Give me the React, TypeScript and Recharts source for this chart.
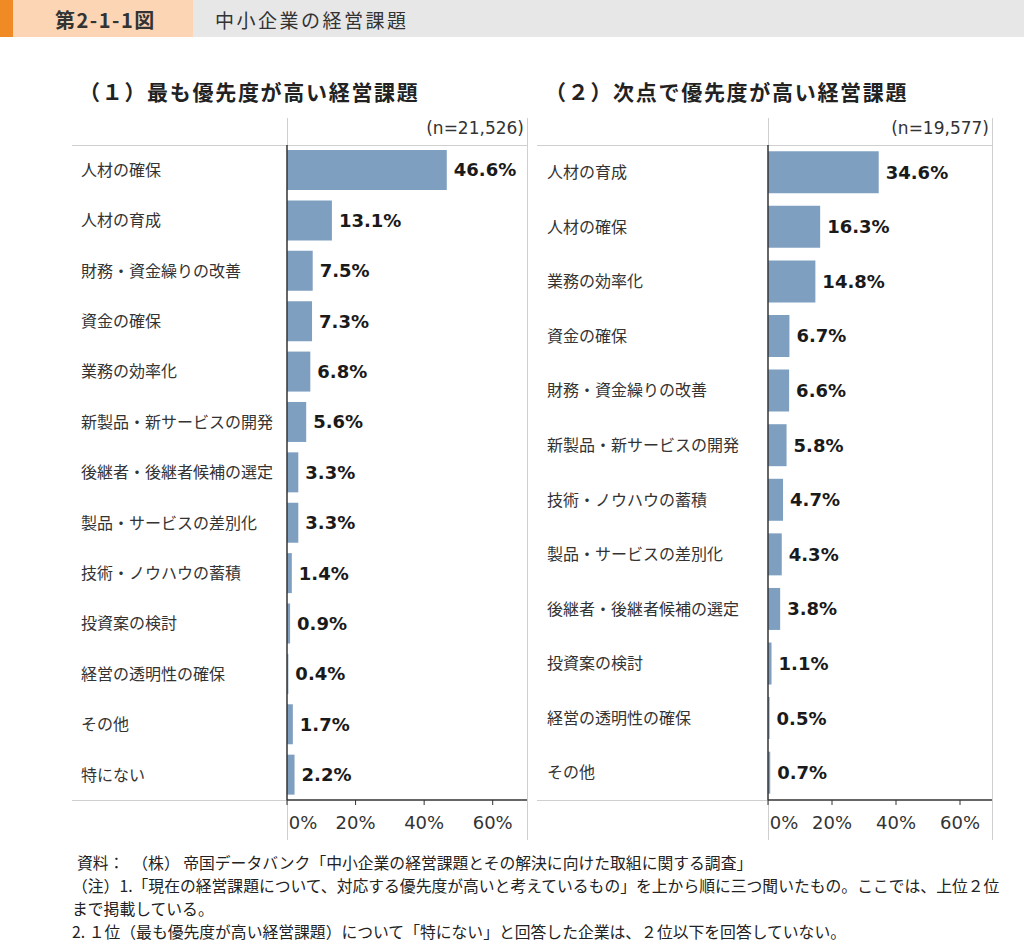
import { BarChart, Bar, XAxis, YAxis, LabelList } from 'recharts';

const leftCategories = [
  '人材の確保',
  '人材の育成',
  '財務・資金繰りの改善',
  '資金の確保',
  '業務の効率化',
  '新製品・新サービスの開発',
  '後継者・後継者候補の選定',
  '製品・サービスの差別化',
  '技術・ノウハウの蓄積',
  '投資案の検討',
  '経営の透明性の確保',
  'その他',
  '特にない',
];
const leftValues = [46.6, 13.1, 7.5, 7.3, 6.8, 5.6, 3.3, 3.3, 1.4, 0.9, 0.4, 1.7, 2.2];

const rightCategories = [
  '人材の育成',
  '人材の確保',
  '業務の効率化',
  '資金の確保',
  '財務・資金繰りの改善',
  '新製品・新サービスの開発',
  '技術・ノウハウの蓄積',
  '製品・サービスの差別化',
  '後継者・後継者候補の選定',
  '投資案の検討',
  '経営の透明性の確保',
  'その他',
];
const rightValues = [34.6, 16.3, 14.8, 6.7, 6.6, 5.8, 4.7, 4.3, 3.8, 1.1, 0.5, 0.7];

const xTicks = [0, 20, 40, 60];

const JP = '"Noto Sans CJK JP", "Noto Sans", sans-serif';
const NUM = '"DejaVu Sans", Verdana, sans-serif';
const GRID = '#cfcfcf';
const AXIS = '#333';
const BAR = '#7f9fc1';

interface PanelProps {
  title: string;
  n: string;
  categories: string[];
  values: number[];
  left: number;
  axisWidth: number;
  labelX: number;
  titleX: number;
  gap: string;
}

const Panel = ({ title, n, categories, values, left, axisWidth, labelX, titleX, gap }: PanelProps) => {
  const data = categories.map((name, i) => ({ name, value: values[i] }));
  const width = 455;
  const axisX = left + axisWidth;

  const CategoryTick = (props: any) => (
    <text
      x={labelX}
      y={props.y}
      dy="0.36em"
      textAnchor="start"
      fontFamily={JP}
      fontSize={16}
      fill="#333"
    >
      {props.payload.value}
    </text>
  );

  const PercentTick = (props: any) => (
    <text
      x={props.x + (props.payload.value === 0 ? 16 : 0)}
      y={props.y + 22}
      textAnchor="middle"
      fontFamily={NUM}
      fontSize={18}
      fill="#333"
    >
      {props.payload.value}%
    </text>
  );

  return (
    <>
      <div style={{ position: 'absolute', left: titleX, top: 76, fontFamily: JP, fontWeight: 'bold', fontSize: 21, color: '#222', whiteSpace: 'nowrap', letterSpacing: 1.7 }}>
        {title}
      </div>
      <div style={{ position: 'absolute', left: left + 150, width: width - 153, top: 118, textAlign: 'right', fontFamily: NUM, fontSize: 17, color: '#333' }}>
        {n}
      </div>
      {/* frame lines */}
      <div style={{ position: 'absolute', left, top: 145, width, height: 1, background: GRID }} />
      <div style={{ position: 'absolute', left, top: 800, width: axisWidth, height: 1, background: GRID }} />
      <div style={{ position: 'absolute', left: axisX, top: 118, width: 1, height: 27, background: GRID }} />
      <div style={{ position: 'absolute', left: axisX, top: 800, width: 1, height: 40, background: GRID }} />
      <div style={{ position: 'absolute', left: left + width, top: 118, width: 1, height: 722, background: GRID }} />
      <div style={{ position: 'absolute', left, top: 145 }}>
        <BarChart
          width={width}
          height={695}
          data={data}
          layout="vertical"
          barCategoryGap={gap}
          margin={{ top: 0, right: 0, bottom: 0, left: 0 }}
        >
          <XAxis
            type="number"
            domain={[0, 70]}
            ticks={xTicks}
            height={40}
            axisLine={{ stroke: AXIS, strokeWidth: 1.5 }}
            tickLine={{ stroke: AXIS }}
            tickSize={5}
            tick={PercentTick}
          />
          <YAxis
            type="category"
            dataKey="name"
            width={axisWidth}
            axisLine={{ stroke: AXIS, strokeWidth: 1.5 }}
            tickLine={false}
            tick={CategoryTick}
            interval={0}
          />
          <Bar dataKey="value" fill={BAR} isAnimationActive={false}>
            <LabelList
              dataKey="value"
              position="right"
              offset={7}
              formatter={(v: any) => `${Number(v).toFixed(1)}%`}
              fill="#1a1a1a"
              fontSize={18}
              fontWeight="bold"
              fontFamily={NUM}
            />
          </Bar>
        </BarChart>
      </div>
    </>
  );
};

const noteStyle = {
  position: 'absolute' as const,
  fontFamily: JP,
  fontSize: 15.8,
  color: '#222',
  whiteSpace: 'nowrap' as const,
};

const App = () => (
  <div style={{ position: 'absolute', left: 0, top: 0, width: 1024, height: 942, background: '#fff', overflow: 'hidden' }}>
    <div style={{ position: 'absolute', left: 0, top: 0, width: 13, height: 37, background: '#f08a24' }} />
    <div style={{ position: 'absolute', left: 13, top: 0, width: 180, height: 37, background: '#fcd5b5' }} />
    <div style={{ position: 'absolute', left: 193, top: 0, width: 831, height: 37, background: '#e7e7e8' }} />
    <div style={{ position: 'absolute', left: 55, top: 5, fontFamily: JP, fontWeight: 'bold', fontSize: 20, letterSpacing: 1.5, color: '#333', whiteSpace: 'nowrap' }}>
      第2-1-1図
    </div>
    <div style={{ position: 'absolute', left: 215, top: 6, fontFamily: JP, fontSize: 19, letterSpacing: 2.5, color: '#333', whiteSpace: 'nowrap' }}>
      中小企業の経営課題
    </div>

    <Panel
      title="（１）最も優先度が高い経営課題"
      n="(n=21,526)"
      categories={leftCategories}
      values={leftValues}
      left={72}
      axisWidth={215}
      labelX={9}
      titleX={79}
      gap="10%"
    />
    <Panel
      title="（２）次点で優先度が高い経営課題"
      n="(n=19,577)"
      categories={rightCategories}
      values={rightValues}
      left={537}
      axisWidth={231}
      labelX={10}
      titleX={545}
      gap="11.5%"
    />

    <div style={{ ...noteStyle, left: 77, top: 851 }}>
      資料：　（株） 帝国データバンク「中小企業の経営課題とその解決に向けた取組に関する調査」
    </div>
    <div style={{ ...noteStyle, left: 72, top: 874 }}>
      （注）1.「現在の経営課題について、対応する優先度が高いと考えているもの」を上から順に三つ聞いたもの。ここでは、上位２位
    </div>
    <div style={{ ...noteStyle, left: 72, top: 897 }}>まで掲載している。</div>
    <div style={{ ...noteStyle, left: 72, top: 920 }}>
      2. １位（最も優先度が高い経営課題）について「特にない」と回答した企業は、２位以下を回答していない。
    </div>
  </div>
);

export default App;
